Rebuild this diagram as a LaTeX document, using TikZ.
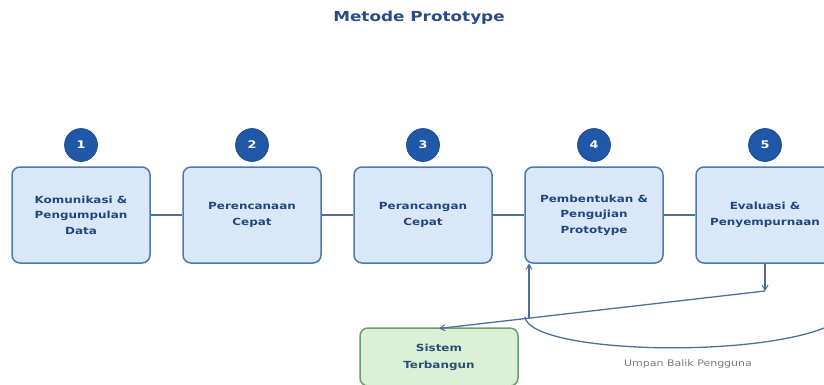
\documentclass[tikz,border=0pt]{standalone}
\usepackage{fontspec}
\setmainfont[FakeStretch=1.22]{DejaVu Sans}
\usetikzlibrary{arrows.meta}
\definecolor{boxfill}{HTML}{D9E8F8}
\definecolor{boxdraw}{HTML}{4F79AE}
\definecolor{boxtext}{HTML}{23457F}
\definecolor{circfill}{HTML}{1E58A6}
\definecolor{linecol}{HTML}{4F6F98}
\definecolor{greenfill}{HTML}{D9F1D5}
\definecolor{greendraw}{HTML}{6C9C6C}
\definecolor{greentext}{HTML}{2F4C72}
\definecolor{titlecol}{HTML}{2B4A88}
\definecolor{labelcol}{HTML}{7A7A7A}
\tikzset{
  stepbox/.style={draw=boxdraw, fill=boxfill, line width=1.5pt, rounded corners=8pt,
    minimum width=138pt, minimum height=96pt, align=center, text=boxtext,
    font=\bfseries\fontsize{9.8}{15.5}\selectfont, inner sep=2pt},
  numcirc/.style={circle, fill=circfill, draw=circfill!80!black, line width=0.6pt, minimum size=33pt, inner sep=0pt,
    text=white, font=\bfseries\fontsize{10.5}{12}\selectfont},
  endbox/.style={draw=greendraw, fill=greenfill, line width=1.5pt, rounded corners=8pt,
    minimum width=158pt, minimum height=58pt, align=center, text=greentext,
    font=\bfseries\fontsize{9.8}{17}\selectfont, inner sep=2pt},
  conn/.style={draw=linecol, line width=1.3pt},
  link/.style={draw=linecol, line width=1.7pt},
  arr/.style={conn, -{Straight Barb[length=5pt,width=6pt,line width=1pt]}},
}
\begin{document}
\begin{tikzpicture}[x=1pt,y=-1pt]
\useasboundingbox[fill=white] (0,0) rectangle (824,385);
\node[text=titlecol, font=\bfseries\fontsize{13.8}{16}\selectfont] (title) at (419,18) {Metode Prototype};

\node[stepbox] (b1) at (81,215) {Komunikasi \&\\Pengumpulan\\Data};
\node[stepbox] (b2) at (252,215) {Perencanaan\\Cepat};
\node[stepbox] (b3) at (423,215) {Perancangan\\Cepat};
\node[stepbox] (b4) at (594,215) {Pembentukan \&\\Pengujian\\Prototype};
\node[stepbox] (b5) at (765,215) {Evaluasi \&\\Penyempurnaan};

\node[numcirc] (n1) at (81,145) {1};
\node[numcirc] (n2) at (252,145) {2};
\node[numcirc] (n3) at (423,145) {3};
\node[numcirc] (n4) at (594,145) {4};
\node[numcirc] (n5) at (765,145) {5};

\draw[link] (b1.east) -- (b2.west);
\draw[link] (b2.east) -- (b3.west);
\draw[link] (b3.east) -- (b4.west);
\draw[link] (b4.east) -- (b5.west);

\node[endbox] (sys) at (439,357) {Sistem\\Terbangun};

\coordinate (p5) at (765,291);
\coordinate (q) at (529,318);
\coordinate (c0) at (525,317);
\coordinate (c1) at (840,320);

\draw[arr] (b5.south) -- (p5);
\draw[arr] (p5) -- (sys.north |- 0,328.5);
\draw[arr] (q) -- (529,263.5);
\draw[conn] (c0) .. controls (530,355) and (780,360) .. (c1);

\node[text=labelcol, font=\fontsize{9}{10}\selectfont] (lbl) at (688,364) {Umpan Balik Pengguna};
\end{tikzpicture}
\end{document}
